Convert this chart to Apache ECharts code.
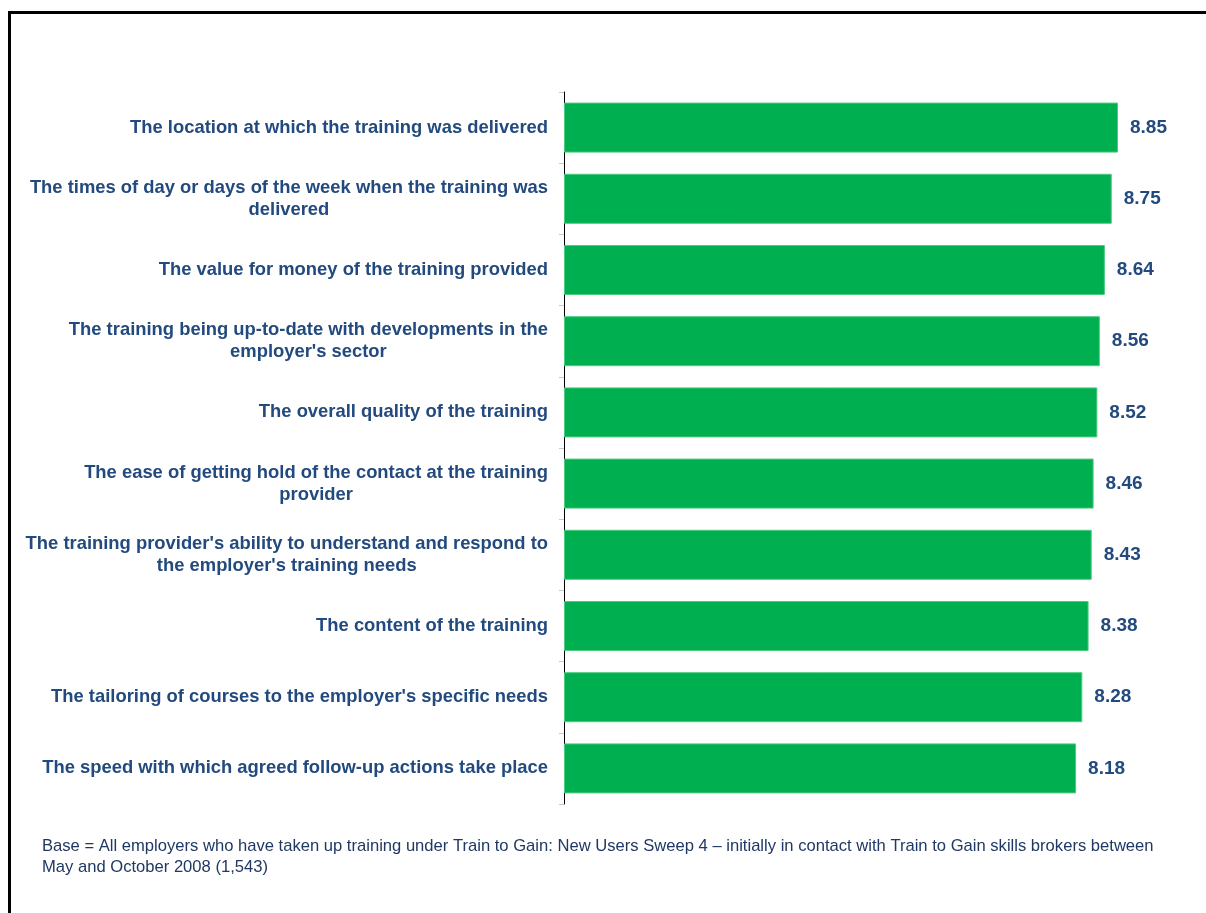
<!DOCTYPE html>
<html>
<head>
<meta charset="utf-8">
<script src="https://cdn.jsdelivr.net/npm/echarts@6/dist/echarts.min.js"></script>
<style>html,body{margin:0;padding:0;background:#fff}#c{width:1206px;height:913px}</style>
</head>
<body>
<div id="c"></div>
<script>
const categories = [
  "The location at which the training was delivered",
  "The times of day or days of the week when the training was\ndelivered",
  "The value for money of the training provided",
  "The training being up-to-date with developments in the\nemployer's sector",
  "The overall quality of the training",
  "The ease of getting hold of the contact at the training\nprovider",
  "The training provider's ability to understand and respond to\nthe employer's training needs",
  "The content of the training",
  "The tailoring of courses to the employer's specific needs",
  "The speed with which agreed follow-up actions take place"
];
const values = [8.85, 8.75, 8.64, 8.56, 8.52, 8.46, 8.43, 8.38, 8.28, 8.18];
const footnote = "Base = All employers who have taken up training under Train to Gain: New Users Sweep 4 \u2013 initially in contact with Train to Gain skills brokers between\nMay and October 2008 (1,543)";

const navy = '#234A7E';
const font = '"Liberation Sans", Arial, sans-serif';
const chart = echarts.init(document.getElementById('c'), null, {renderer: 'canvas'});
chart.setOption({
  backgroundColor: '#fff',
  animation: false,
  grid: {left: 564, top: 92, width: 626, height: 712, containLabel: false},
  xAxis: {type: 'value', min: 0, max: 10, show: false},
  yAxis: {
    type: 'category', data: categories, inverse: true,
    axisLine: {show: true, lineStyle: {color: '#000', width: 1}},
    axisTick: {show: true, length: 5, lineStyle: {color: '#c8c8c8'}},
    axisLabel: {
      margin: 16,
      formatter: v => v.split('\n').map(s => '{c|' + s + '}').join('\n'),
      rich: {c: {align: 'center', fontSize: 18.4, fontWeight: 'bold', color: navy, fontFamily: font, lineHeight: 22}}
    },
    splitLine: {show: false}
  },
  series: [{
    type: 'bar', data: values, barWidth: 50,
    itemStyle: {color: '#00B050', borderColor: '#4CCB7E', borderWidth: 1},
    label: {show: true, position: 'right', distance: 12, fontSize: 19, fontWeight: 'bold', color: navy, fontFamily: font,
      formatter: p => p.value.toFixed(2)}
  }],
  graphic: [
    {type: 'rect', shape: {x: 9.5, y: 12.5, width: 1220, height: 920}, style: {fill: null, stroke: '#000', lineWidth: 3}, silent: true},
    {type: 'text', left: 42, top: 836, style: {text: footnote, fontSize: 16.6, fontFamily: font, fill: '#1F3864', lineHeight: 21}}
  ]
});
</script>
</body>
</html>
